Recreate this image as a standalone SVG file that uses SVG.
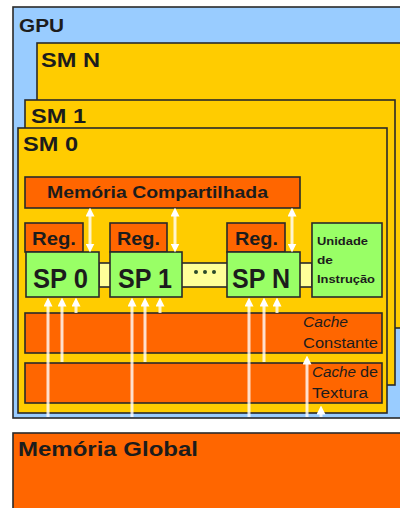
<svg xmlns="http://www.w3.org/2000/svg" width="400" height="508" viewBox="0 0 400 508">
  <defs>
    <marker id="head" viewBox="0 0 10 10" refX="5" refY="5" markerWidth="3" markerHeight="3" orient="auto-start-reverse" markerUnits="strokeWidth">
      <path d="M0 0 L10 5 L0 10 z" fill="#ffffff"/>
    </marker>
    <style>
      .box { stroke: #2a2a2a; stroke-width: 1.6; }
      .blue { fill: #99ccff; }
      .yel { fill: #ffcc00; }
      .org { fill: #ff6600; }
      .grn { fill: #99ff66; }
      .pale { fill: #ffff99; }
      .t { font-family: "Liberation Sans", Arial, sans-serif; font-weight: bold; fill: #1c1c1c; }
      .ti { font-family: "Liberation Sans", Arial, sans-serif; fill: #1c1c1c; }
      .arr { stroke: #ffffff; stroke-opacity: 0.8; stroke-width: 3; fill: none; }
    </style>
  </defs>

  <rect width="400" height="508" fill="#ffffff"/>

  <g id="gpu">
    <rect class="box blue" x="13" y="7" width="400" height="411"/>
    <text class="t" x="19" y="32" font-size="19" textLength="45" lengthAdjust="spacingAndGlyphs">GPU</text>
  </g>

  <g id="sm-n">
    <rect class="box yel" x="37" y="43" width="380" height="285"/>
    <text class="t" x="41" y="67" font-size="20" textLength="59" lengthAdjust="spacingAndGlyphs">SM N</text>
  </g>

  <g id="sm-1">
    <rect class="box yel" x="25" y="100" width="370" height="285"/>
    <text class="t" x="31" y="123" font-size="20" textLength="55" lengthAdjust="spacingAndGlyphs">SM 1</text>
  </g>

  <g id="sm-0">
    <rect class="box yel" x="18" y="128" width="369" height="285"/>
    <text class="t" x="23" y="151" font-size="20" textLength="55" lengthAdjust="spacingAndGlyphs">SM 0</text>
  </g>

  <g id="memoria-compartilhada">
    <rect class="box org" x="25" y="177" width="275" height="31"/>
    <text class="t" x="47" y="198" font-size="16" textLength="221" lengthAdjust="spacingAndGlyphs">Memória Compartilhada</text>
  </g>

  <!-- interconnect strip behind the processors -->
  <g id="barramento">
    <rect class="box pale" x="99" y="263" width="213" height="24"/>
    <g fill="#2a4a2a">
      <circle cx="196" cy="272" r="2"/>
      <circle cx="205" cy="272" r="2"/>
      <circle cx="214" cy="272" r="2"/>
    </g>
  </g>

  <g id="reg-0">
    <rect class="box org" x="25" y="223" width="58" height="29"/>
    <text class="t" x="32" y="245" font-size="19" textLength="44" lengthAdjust="spacingAndGlyphs">Reg.</text>
  </g>
  <g id="reg-1">
    <rect class="box org" x="110" y="223" width="57" height="29"/>
    <text class="t" x="117" y="245" font-size="19" textLength="43" lengthAdjust="spacingAndGlyphs">Reg.</text>
  </g>
  <g id="reg-n">
    <rect class="box org" x="227" y="223" width="58" height="29"/>
    <text class="t" x="235" y="245" font-size="19" textLength="43" lengthAdjust="spacingAndGlyphs">Reg.</text>
  </g>

  <g id="sp-0">
    <rect class="box grn" x="26" y="252" width="73" height="45"/>
    <text class="t" x="33" y="288" font-size="27" textLength="55" lengthAdjust="spacingAndGlyphs">SP 0</text>
  </g>
  <g id="sp-1">
    <rect class="box grn" x="110" y="252" width="72" height="45"/>
    <text class="t" x="118" y="288" font-size="27" textLength="54" lengthAdjust="spacingAndGlyphs">SP 1</text>
  </g>
  <g id="sp-n">
    <rect class="box grn" x="227" y="252" width="73" height="45"/>
    <text class="t" x="232" y="288" font-size="27" textLength="58" lengthAdjust="spacingAndGlyphs">SP N</text>
  </g>

  <g id="unidade-instrucao">
    <rect class="box grn" x="312" y="223" width="70" height="74"/>
    <text class="t" font-size="10.5">
      <tspan x="317" y="245" textLength="51" lengthAdjust="spacingAndGlyphs">Unidade</tspan>
      <tspan x="317" y="264" textLength="16" lengthAdjust="spacingAndGlyphs">de</tspan>
      <tspan x="317" y="283" textLength="58" lengthAdjust="spacingAndGlyphs">Instrução</tspan>
    </text>
  </g>

  <g id="cache-constante">
    <rect class="box org" x="25" y="313" width="357" height="40"/>
    <text class="ti" x="303" y="327" font-size="14" font-style="italic" textLength="45" lengthAdjust="spacingAndGlyphs">Cache</text>
    <text class="ti" x="303" y="348" font-size="14" textLength="75" lengthAdjust="spacingAndGlyphs">Constante</text>
  </g>

  <g id="cache-textura">
    <rect class="box org" x="25" y="363" width="357" height="40"/>
    <text class="ti" x="312" y="377" font-size="14"><tspan font-style="italic" textLength="44" lengthAdjust="spacingAndGlyphs">Cache</tspan><tspan dx="4" textLength="18" lengthAdjust="spacingAndGlyphs">de</tspan></text>
    <text class="ti" x="312" y="398" font-size="14" textLength="56" lengthAdjust="spacingAndGlyphs">Textura</text>
  </g>

  <g id="memoria-global">
    <rect class="box org" x="13" y="433" width="400" height="90"/>
    <text class="t" x="18" y="456" font-size="21" textLength="180" lengthAdjust="spacingAndGlyphs">Memória Global</text>
  </g>

  <g id="connectors">
    <!-- shared memory <-> processors -->
    <path class="arr" d="M90 212 L90 248" marker-start="url(#head)" marker-end="url(#head)"/>
    <path class="arr" d="M175 212 L175 248" marker-start="url(#head)" marker-end="url(#head)"/>
    <path class="arr" d="M292 212 L292 248" marker-start="url(#head)" marker-end="url(#head)"/>
    <!-- global memory / caches -> SP 0 -->
    <path class="arr" d="M48 417 L48 302" marker-end="url(#head)"/>
    <path class="arr" d="M62 362 L62 302" marker-end="url(#head)"/>
    <path class="arr" d="M76 313 L76 302" marker-end="url(#head)"/>
    <!-- global memory / caches -> SP 1 -->
    <path class="arr" d="M132 417 L132 302" marker-end="url(#head)"/>
    <path class="arr" d="M145 362 L145 302" marker-end="url(#head)"/>
    <path class="arr" d="M160 313 L160 302" marker-end="url(#head)"/>
    <!-- global memory / caches -> SP N -->
    <path class="arr" d="M249 417 L249 302" marker-end="url(#head)"/>
    <path class="arr" d="M264 362 L264 302" marker-end="url(#head)"/>
    <path class="arr" d="M277 313 L277 302" marker-end="url(#head)"/>
    <!-- global memory -> caches -->
    <path class="arr" d="M307 417 L307 360" marker-end="url(#head)"/>
    <path class="arr" d="M321 417 L321 410" marker-end="url(#head)"/>
  </g>
</svg>
